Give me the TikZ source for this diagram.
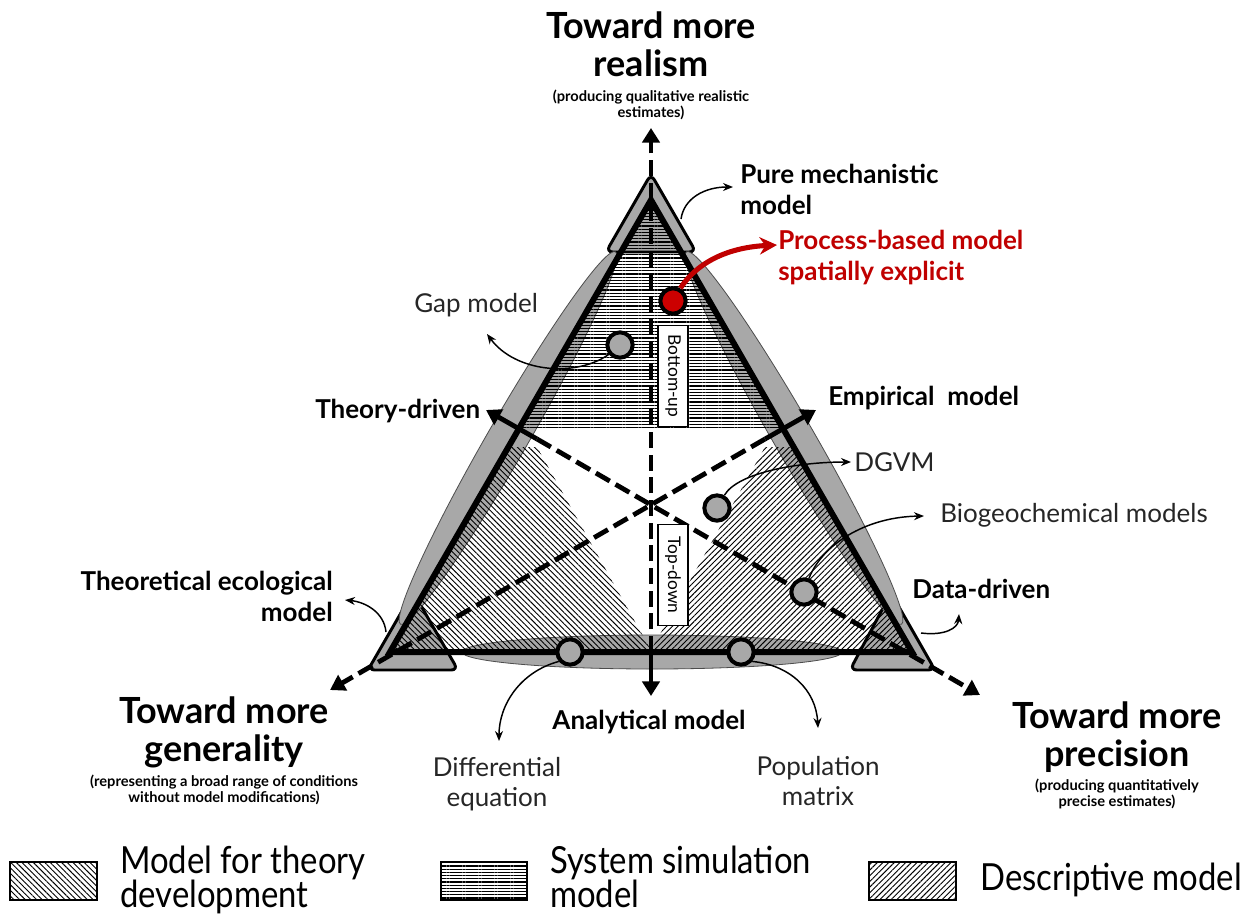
\documentclass[tikz,border=0pt]{standalone}
\usepackage{fontspec}
\setmainfont{Lato}
\newfontfamily\legendfont[FakeStretch=0.88]{Lato}
\usetikzlibrary{arrows.meta,patterns.meta,calc}
\definecolor{shade}{RGB}{168,168,168}
\definecolor{procred}{RGB}{192,0,0}
\definecolor{dotred}{RGB}{204,0,0}
\begin{document}
\begin{tikzpicture}[x=0.75pt,y=-0.75pt,
  capshape/.style={fill=shade,draw=black,line width=2.2pt,rounded corners=5pt},
  lens/.style={fill=shade,draw=black!70,line width=0.6pt},
  theoryfill/.style={pattern={Lines[angle=-45,distance=3pt,line width=0.7pt]}},
  descfill/.style={pattern={Lines[angle=45,distance=3pt,line width=0.7pt]}},
  simfill/.style={pattern={Lines[angle=0,distance=2.4pt,line width=0.95pt]}},
  triedge/.style={line width=4.5pt,line join=miter},
  axisdash/.style={line width=3.6pt,dash pattern=on 12pt off 5pt},
  axisline/.style={line width=3.6pt},
  axtip/.style={-{Triangle[length=11pt,width=13pt]}},
  modeldot/.style={circle,draw=black,line width=3pt,fill=shade,minimum size=19pt,inner sep=0pt},
  pointer/.style={line width=1.1pt,-{Stealth[length=7.5pt,width=6pt]}},
  titlehead/.style={font=\fontsize{27pt}{28.5pt}\selectfont\bfseries,align=center,inner sep=0pt,anchor=base},
  subnote/.style={font=\fontsize{11pt}{11.4pt}\selectfont\bfseries,align=center,inner sep=0pt,anchor=base},
  kindlabel/.style={font=\fontsize{19.5pt}{23pt}\selectfont\bfseries,inner sep=0pt},
  exlabel/.style={font=\fontsize{19.5pt}{22pt}\selectfont,text=black!85,inner sep=0pt},
  dirbox/.style={draw=black,line width=1pt,fill=white,rotate=-90,font=\fontsize{13pt}{14pt}\selectfont,minimum width=76pt,minimum height=22.5pt,inner sep=0pt},
  legendkey/.style={draw=black,line width=1.4pt,minimum width=65pt,minimum height=28.5pt,inner sep=0pt},
  keytext/.style={font=\legendfont\fontsize{28pt}{25.5pt}\selectfont,align=left,inner sep=0pt,anchor=base west}
]
\useasboundingbox (0,0) rectangle (1246,914);

% vertices of the model triangle and its centre
\coordinate (apex) at (651,200);
\coordinate (bl) at (390,652);
\coordinate (br) at (912,652);
\coordinate (ctr) at (651,505);

% grey caps at the three corners
\draw[capshape] (651,174) -- (696,252) -- (606,252) -- cycle;
\draw[capshape] (413,592) -- (458,670) -- (368,670) -- cycle;
\draw[capshape] (891,593) -- (935,670) -- (850,670) -- cycle;

% grey lenses along the three sides
\draw[lens, rotate around={60:(508,438)}] (508,438) ellipse [x radius=215, y radius=20];
\draw[lens, rotate around={-60:(794,438)}] (794,438) ellipse [x radius=215, y radius=20];
\draw[lens] (652,652) ellipse [x radius=190, y radius=17];

% hatched model families
\fill[simfill] (apex) -- (519,428) -- (783,428) -- cycle;
\fill[theoryfill] (bl) -- (508,447) -- (537,447) -- (652,652) -- cycle;
\fill[descfill] (br) -- (794,447) -- (765,447) -- (650,652) -- cycle;

% the triangle itself
\draw[triedge] (apex) -- (bl) -- (br) -- cycle;

% axes
\coordinate (topTip) at (651,128);
\coordinate (baseCut) at (651,652);
\coordinate (botTip) at (651,696);
\draw[axisdash,axtip] (baseCut) -- (topTip);
\draw[axisline,axtip] (baseCut) -- (botTip);

\coordinate (thStart) at (537,439);
\coordinate (thTip) at (486,410);
\coordinate (prTip) at (980,695);
\draw[axisdash,axtip] (thStart) -- (prTip);
\draw[axisline,axtip] (thStart) -- (thTip);

\coordinate (emStart) at (765,439);
\coordinate (emTip) at (816,410);
\coordinate (geTip) at (330,690);
\draw[axisdash,axtip] (emStart) -- (geTip);
\draw[axisline,axtip] (emStart) -- (emTip);

% direction boxes
\node[dirbox] (bu) at (673,376) {Bottom-up};
\node[dirbox] (td) at (673,575) {Top-down};

% model examples
\node[modeldot,fill=dotred] (pbm) at (673,301) {};
\node[modeldot] (gap) at (620,345) {};
\node[modeldot] (dgvm) at (717,508) {};
\node[modeldot] (bgc) at (804,592) {};
\node[modeldot] (deq) at (570,652) {};
\node[modeldot] (pop) at (741,652) {};

% pointers to the labels
\coordinate (pmFrom) at (681,219);
\coordinate (pmTip) at (733,187);
\draw[pointer] (pmFrom) .. controls (684,198) and (705,187) .. (pmTip);

\coordinate (pbmTip) at (777,245);
\draw[line width=3.8pt,draw=procred,-{Stealth[length=13pt,width=13pt]}] (pbm.60) .. controls (700,258) and (735,247) .. (pbmTip);

\coordinate (gapTip) at (487,334);
\draw[pointer] (gap.220) .. controls (575,378) and (515,372) .. (gapTip);

\coordinate (dgvmTip) at (851,462);
\draw[pointer] (dgvm.60) .. controls (738,472) and (800,462) .. (dgvmTip);

\coordinate (bgcTip) at (924,516);
\draw[pointer] (bgc.70) .. controls (822,545) and (865,517) .. (bgcTip);

\coordinate (deqTip) at (499,741);
\draw[pointer] (deq.220) .. controls (520,672) and (499,705) .. (deqTip);

\coordinate (popTip) at (818,728);
\draw[pointer] (pop.-40) .. controls (790,665) and (816,690) .. (popTip);

\coordinate (teFrom) at (386,632);
\coordinate (teTip) at (345,600);
\draw[pointer] (teFrom) .. controls (384,612) and (365,602) .. (teTip);

\coordinate (ddFrom) at (921,633);
\coordinate (ddTip) at (959,614);
\draw[pointer] (ddFrom) .. controls (945,636) and (958,628) .. (ddTip);

% axis titles (multi-line nodes sit on the baseline of their last line)
\node[titlehead] (realism) at (651,76) {Toward more\\realism};
\node[subnote] (realismSub) at (651,117) {(producing qualitative realistic\\estimates)};
\node[titlehead] (generality) at (224,761) {Toward more\\generality};
\node[subnote] (generalitySub) at (224,802) {(representing a broad range of conditions\\without model modifications)};
\node[titlehead] (precision) at (1117,766) {Toward more\\precision};
\node[subnote] (precisionSub) at (1117,806) {(producing quantitatively\\precise estimates)};

% model type labels
\node[kindlabel,align=left,anchor=base west] (pure) at (740,214) {Pure mechanistic\\model};
\node[kindlabel,align=left,anchor=base west,text=procred] (proc) at (778,280) {Process-based model\\spatially explicit};
\node[kindlabel,anchor=base west] (theory) at (315,418) {Theory-driven};
\node[kindlabel,anchor=base west] (empirical) at (828,405) {Empirical\ \ model};
\node[kindlabel,align=right,anchor=base east] (theoretical) at (333,621) {Theoretical ecological\\model};
\node[kindlabel,anchor=base west] (data) at (912,598) {Data-driven};
\node[kindlabel,anchor=base] (analytical) at (649,729) {Analytical model};

% example labels
\node[exlabel,anchor=base west] (gapLabel) at (414,312) {Gap model};
\node[exlabel,anchor=base west] (dgvmLabel) at (854,471) {DGVM};
\node[exlabel,anchor=base west] (bgcLabel) at (940,522) {Biogeochemical models};
\node[exlabel,align=center,anchor=base] (deqLabel) at (497,806) {Differential\\equation};
\node[exlabel,align=center,anchor=base] (popLabel) at (818,805) {Population\\matrix};

% legend
\node[legendkey,theoryfill] (keyTheory) at (53.5,881) {};
\node[keytext] (keyTheoryText) at (120,907) {Model for theory\\development};
\node[legendkey,simfill] (keySim) at (484,881) {};
\node[keytext] (keySimText) at (550,907) {System simulation\\model};
\node[legendkey,descfill] (keyDesc) at (912.5,881) {};
\node[keytext] (keyDescText) at (980,890) {Descriptive model};
\end{tikzpicture}
\end{document}
